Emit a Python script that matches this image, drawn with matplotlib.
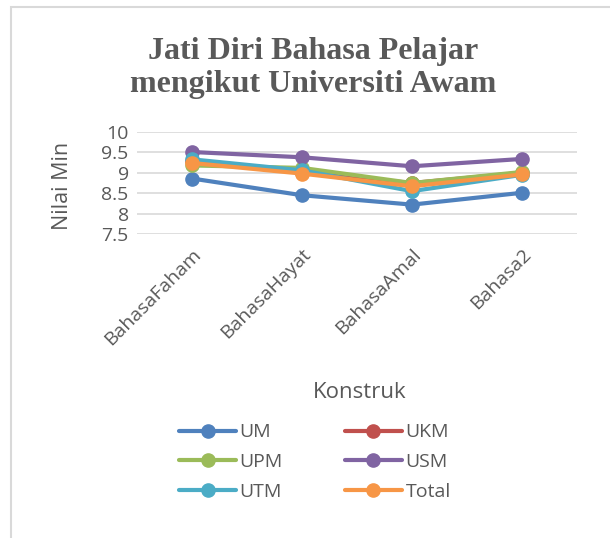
import matplotlib
matplotlib.use("Agg")
import matplotlib.pyplot as plt
from matplotlib.patches import Rectangle

# data
konstruk = ["BahasaFaham", "BahasaHayat", "BahasaAmal", "Bahasa2"]
um = [8.86, 8.45, 8.22, 8.51]
ukm = [9.30, 9.00, 8.75, 9.00]
upm = [9.18, 9.12, 8.75, 9.02]
usm = [9.51, 9.38, 9.16, 9.34]
utm = [9.33, 9.06, 8.55, 8.95]
total = [9.24, 8.98, 8.67, 8.96]

series = [("UM", um, "#4F81BD"), ("UKM", ukm, "#C0504D"), ("UPM", upm, "#9BBB59"),
          ("USM", usm, "#8064A2"), ("UTM", utm, "#4BACC6"), ("Total", total, "#F79646")]

grey = "#595959"
plt.rcParams['font.family'] = ['Open Sans', 'DejaVu Sans']

fig = plt.figure(figsize=(6.1, 5.38), dpi=100)
# chart area border
fig.patches.append(Rectangle((11 / 610, -0.01), 1.0, 1 - 7 / 538 + 0.01, transform=fig.transFigure,
                             fill=False, edgecolor="#D9D9D9", linewidth=1.5))

ax = fig.add_axes([137 / 610, 1 - 234 / 538, 440 / 610, 102 / 538])
x = range(len(konstruk))
for name, vals, col in series:
    ax.plot(x, vals, color=col, linewidth=3, marker="o", markersize=9.5,
            solid_capstyle="round", label=name)

ax.set_xlim(-0.5, 3.5)
ax.set_ylim(7.5, 10)
ax.set_yticks([7.5, 8, 8.5, 9, 9.5, 10])
ax.set_yticklabels(["7.5", "8", "8.5", "9", "9.5", "10"])
ax.yaxis.grid(True, color="#D9D9D9", linewidth=1.2)
ax.set_axisbelow(True)
for s in ax.spines.values():
    s.set_visible(False)
ax.tick_params(length=0, colors=grey, labelsize=14)
ax.tick_params(axis="y", pad=6)
ax.set_xticks(list(x))
ax.set_xticklabels(konstruk, rotation=45, ha="right", rotation_mode="anchor")
ax.tick_params(axis="x", pad=8)

fig.text(63 / 610, 1 - 186 / 538, "Nilai Min", rotation=90, ha="center", va="center",
         color=grey, fontsize=15.5)
fig.text(360 / 610, 1 - 392 / 538, "Konstruk", ha="center", va="center",
         color=grey, fontsize=16)
fig.text(313 / 610, 1 - 68 / 538, "Jati Diri Bahasa Pelajar\nmengikut Universiti Awam",
         ha="center", va="center", color=grey, fontsize=23, fontweight="bold",
         family="Liberation Serif", linespacing=1.2)

# legend filled row by row like the original
handles, labels = ax.get_legend_handles_labels()
order = [0, 2, 4, 1, 3, 5]
fig.legend([handles[i] for i in order], [labels[i] for i in order], ncol=2, loc="center",
           bbox_to_anchor=(315 / 610, 1 - 462 / 538), frameon=False, fontsize=14,
           labelcolor=grey, handlelength=2.9, handletextpad=0.2, columnspacing=3.2,
           labelspacing=0.6)

fig.savefig("out.png", dpi=100)
